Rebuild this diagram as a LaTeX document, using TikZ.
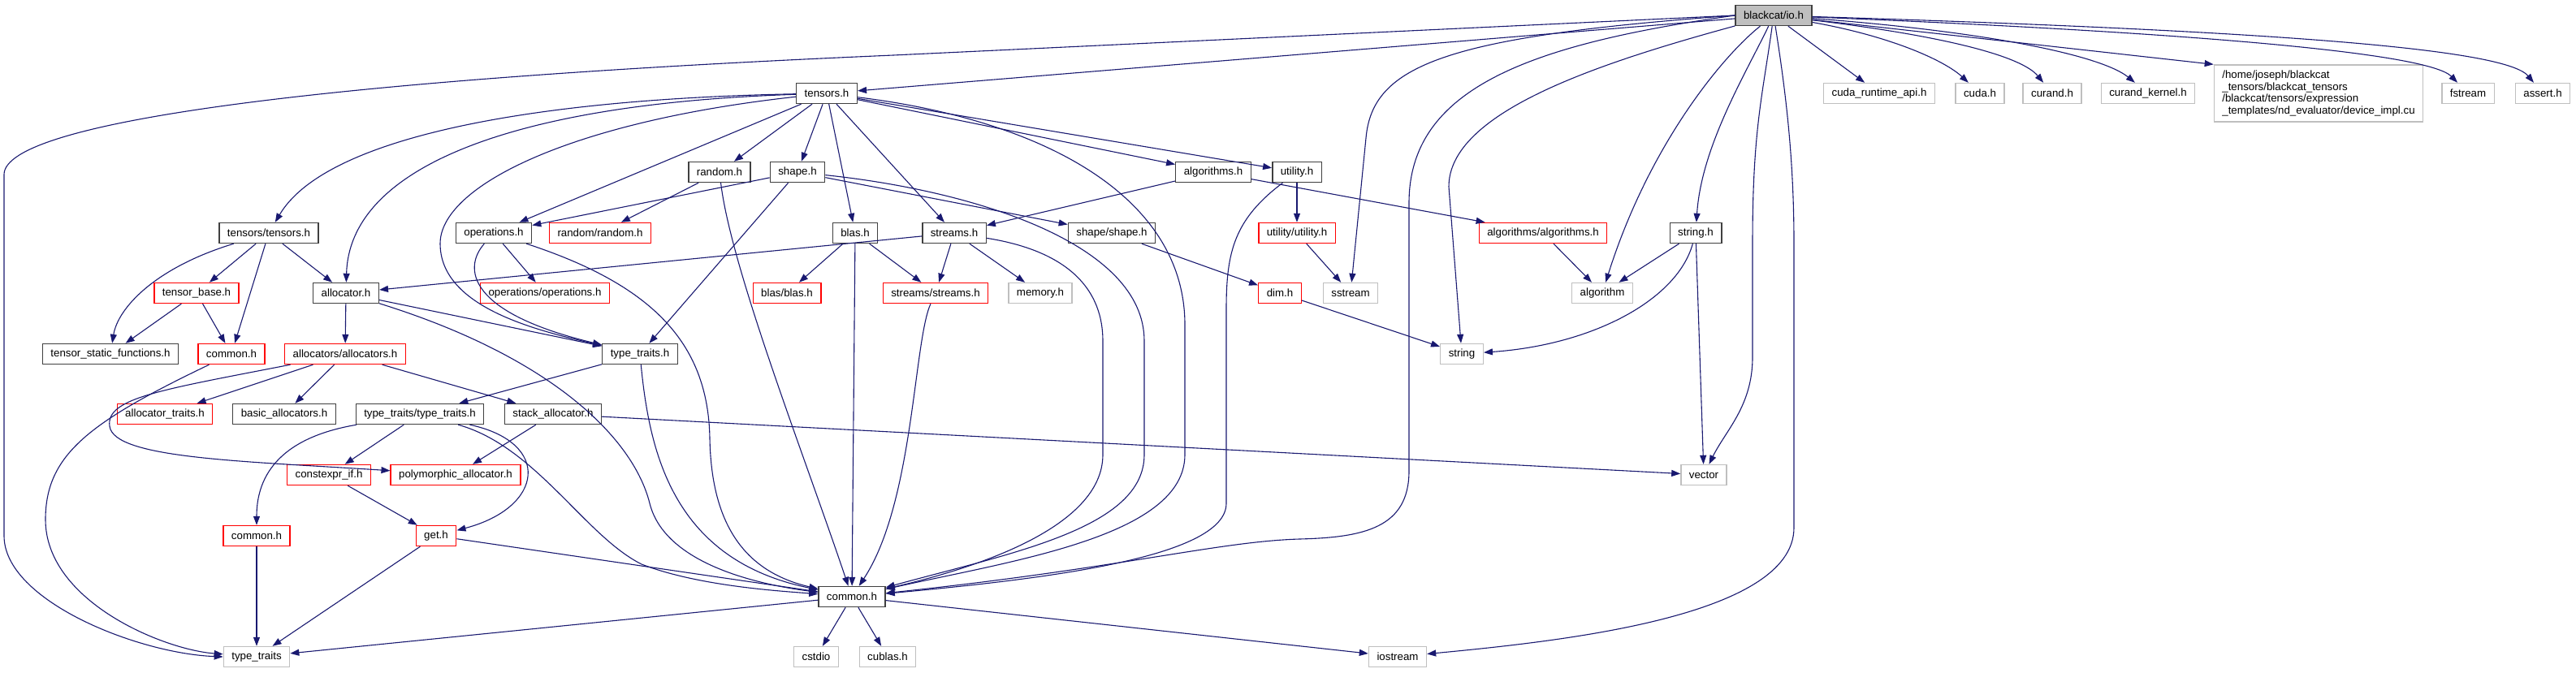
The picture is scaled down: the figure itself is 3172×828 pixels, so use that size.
\documentclass[tikz,border=0pt]{standalone}
\usepackage{fontspec}
\setmainfont{Liberation Sans}
\usepackage{xcolor}
\usetikzlibrary{arrows.meta}

\definecolor{edgeblue}{RGB}{25,25,112}
\definecolor{boxgray}{RGB}{191,191,191}
\definecolor{boxdark}{RGB}{64,64,64}

\tikzset{
  hdr/.style={draw=boxdark, line width=1.4pt, fill=white, inner xsep=10pt, inner ysep=0pt,
    minimum height=25pt, font=\fontsize{13.3}{14.8}\selectfont},
  redhdr/.style={hdr, draw=red},
  syshdr/.style={hdr, draw=boxgray},
  mainhdr/.style={hdr, fill=boxgray},
  dep/.style={draw=edgeblue, line width=1.1pt, -{Triangle[length=11pt,width=8pt]}}
}

\begin{document}
\begin{tikzpicture}[x=1pt, y=-1pt]
  \useasboundingbox (0,0) rectangle (3172,828);
  % root
  \node[mainhdr] (io) at (2184,19) {blackcat/io.h};
  % first row
  \node[hdr] (tensors) at (1018,115) {tensors.h};
  \node[syshdr] (cudart) at (2314,115) {cuda\_runtime\_api.h};
  \node[syshdr] (cuda) at (2438,115) {cuda.h};
  \node[syshdr] (curand) at (2527,115) {curand.h};
  \node[syshdr] (curandk) at (2645,115) {curand\_kernel.h};
  \node[syshdr, align=left, minimum height=70pt] (devimpl) at (2855,115)
    {/home/joseph/blackcat\\\_tensors/blackcat\_tensors\\/blackcat/tensors/expression\\\_templates/nd\_evaluator/device\_impl.cu};
  \node[syshdr] (fstream) at (3039,115) {fstream};
  \node[syshdr] (assert) at (3131,115) {assert.h};
  % second row
  \node[hdr] (random) at (886,212) {random.h};
  \node[hdr] (shape) at (982,212) {shape.h};
  \node[hdr] (algorithms) at (1494,212) {algorithms.h};
  \node[hdr] (utility) at (1597,212) {utility.h};
  % third row
  \node[hdr] (ttensors) at (331,287) {tensors/tensors.h};
  \node[hdr] (operations) at (608,287) {operations.h};
  \node[redhdr] (rrandom) at (739,287) {random/random.h};
  \node[hdr] (blas) at (1053,287) {blas.h};
  \node[hdr] (streams) at (1175,287) {streams.h};
  \node[hdr] (sshape) at (1369,287) {shape/shape.h};
  \node[redhdr] (uutility) at (1597,287) {utility/utility.h};
  \node[redhdr] (aalgorithms) at (1900,287) {algorithms/algorithms.h};
  \node[hdr] (stringh) at (2088,287) {string.h};
  % fourth row
  \node[redhdr] (tensorbase) at (242,361) {tensor\_base.h};
  \node[hdr] (allocator) at (426,361) {allocator.h};
  \node[redhdr] (ooperations) at (671,361) {operations/operations.h};
  \node[redhdr] (bblas) at (969,361) {blas/blas.h};
  \node[redhdr] (sstreams) at (1152,361) {streams/streams.h};
  \node[syshdr] (memory) at (1281,361) {memory.h};
  \node[redhdr] (dim) at (1576,361) {dim.h};
  \node[syshdr] (sstream) at (1663,361) {sstream};
  \node[syshdr] (algorithm) at (1973,361) {algorithm};
  % fifth row
  \node[hdr] (tsf) at (136,436) {tensor\_static\_functions.h};
  \node[redhdr] (commontens) at (285,436) {common.h};
  \node[redhdr] (allocators) at (425,436) {allocators/allocators.h};
  \node[hdr] (typetraitsh) at (788,436) {type\_traits.h};
  \node[syshdr] (string) at (1800,436) {string};
  % sixth row
  \node[redhdr] (allocatortraits) at (203,510) {allocator\_traits.h};
  \node[hdr] (basicalloc) at (350,510) {basic\_allocators.h};
  \node[hdr] (ttypetraits) at (517,510) {type\_traits/type\_traits.h};
  \node[hdr] (stackalloc) at (681,510) {stack\_allocator.h};
  % seventh row
  \node[redhdr] (constexprif) at (405,585) {constexpr\_if.h};
  \node[redhdr] (polyalloc) at (561,585) {polymorphic\_allocator.h};
  \node[syshdr] (vector) at (2098,585) {vector};
  % eighth row
  \node[redhdr] (commontt) at (316,660) {common.h};
  \node[redhdr] (get) at (537,660) {get.h};
  % ninth row
  \node[hdr] (common) at (1049,735) {common.h};
  % last row
  \node[syshdr] (typetraits) at (316,809) {type\_traits};
  \node[syshdr] (cstdio) at (1005,809) {cstdio};
  \node[syshdr] (cublas) at (1093,809) {cublas.h};
  \node[syshdr] (iostream) at (1721,809) {iostream};

  % edges from blackcat/io.h
  \draw[dep] (io) -- (tensors);
  \draw[dep] (io.west) -- (1100,68) .. controls (400,98) and (5,150) .. (5,215) -- (5,660)
    .. controls (5,740) and (170,805) .. (typetraits.west);
  \draw[dep] (io.west) .. controls (1780,45) and (1690,80) .. (1682,170) -- (sstream);
  \draw[dep] (io.west) .. controls (1880,55) and (1735,110) .. (1735,250) -- (1735,580)
    .. controls (1735,650) and (1680,662) .. (1600,664) .. controls (1500,667) and (1380,700) .. (common);
  \draw[dep] (io) .. controls (1960,80) and (1784,140) .. (1784,230) -- (string);
  \draw[dep] (io) .. controls (2120,70) and (2030,180) .. (algorithm);
  \draw[dep] (io) .. controls (2150,90) and (2095,180) .. (stringh);
  \draw[dep] (io) .. controls (2170,120) and (2158,160) .. (2158,300) -- (2158,440)
    .. controls (2158,500) and (2125,530) .. (vector);
  \draw[dep] (io) .. controls (2200,120) and (2209,200) .. (2209,300) -- (2209,650)
    .. controls (2209,760) and (1920,790) .. (iostream);
  \draw[dep] (io) -- (cudart);
  \draw[dep] (io) .. controls (2330,45) and (2395,75) .. (cuda);
  \draw[dep] (io) .. controls (2400,45) and (2490,70) .. (curand);
  \draw[dep] (io) .. controls (2460,40) and (2590,70) .. (curandk);
  \draw[dep] (io) -- (devimpl.north west);
  \draw[dep] (io) .. controls (2700,40) and (2990,65) .. (fstream);
  \draw[dep] (io) .. controls (2800,38) and (3085,60) .. (assert);

  % edges from tensors.h
  \draw[dep] (tensors) .. controls (650,122) and (400,170) .. (ttensors);
  \draw[dep] (tensors) .. controls (620,128) and (430,210) .. (allocator);
  \draw[dep] (tensors) .. controls (700,150) and (542,230) .. (542,300)
    .. controls (542,375) and (650,405) .. (typetraitsh);
  \draw[dep] (tensors) -- (operations);
  \draw[dep] (tensors) -- (random);
  \draw[dep] (tensors) -- (shape);
  \draw[dep] (tensors) -- (blas);
  \draw[dep] (tensors) -- (streams);
  \draw[dep] (tensors) -- (algorithms);
  \draw[dep] (tensors) -- (utility);
  \draw[dep] (tensors) .. controls (1300,150) and (1459,250) .. (1459,400) -- (1459,560)
    .. controls (1459,660) and (1250,690) .. (common);

  \draw[dep] (random) -- (rrandom);
  \draw[dep] (random) .. controls (900,330) and (990,560) .. (common);
  \draw[dep] (shape) -- (operations);
  \draw[dep] (shape) -- (typetraitsh);
  \draw[dep] (shape) -- (sshape);
  \draw[dep] (shape) .. controls (1200,235) and (1409,300) .. (1409,420) -- (1409,560)
    .. controls (1409,650) and (1250,680) .. (common);
  \draw[dep] (algorithms) -- (streams);
  \draw[dep] (algorithms) -- (aalgorithms);
  \draw[dep] (utility) -- (uutility);
  \draw[dep] (utility) .. controls (1520,270) and (1510,310) .. (1510,380) -- (1510,620)
    .. controls (1510,685) and (1300,712) .. (common);

  \draw[dep] (ttensors) .. controls (190,330) and (145,380) .. (tsf);
  \draw[dep] (ttensors) -- (tensorbase);
  \draw[dep] (ttensors) -- (commontens);
  \draw[dep] (ttensors) -- (allocator);
  \draw[dep] (operations) -- (ooperations);
  \draw[dep] (operations) .. controls (570,330) and (575,385) .. (typetraitsh);
  \draw[dep] (operations) .. controls (800,350) and (872,420) .. (874,540)
    .. controls (876,650) and (920,705) .. (common);
  \draw[dep] (blas) -- (bblas);
  \draw[dep] (blas) -- (sstreams);
  \draw[dep] (blas) -- (common);
  \draw[dep] (streams) -- (allocator);
  \draw[dep] (streams) -- (sstreams);
  \draw[dep] (streams) -- (memory);
  \draw[dep] (streams) .. controls (1320,310) and (1358,360) .. (1358,420) -- (1358,560)
    .. controls (1358,650) and (1200,700) .. (common);
  \draw[dep] (sshape) -- (dim);
  \draw[dep] (uutility) -- (sstream);
  \draw[dep] (aalgorithms) -- (algorithm);
  \draw[dep] (stringh) -- (algorithm);
  \draw[dep] (stringh) .. controls (2065,370) and (1960,425) .. (string);
  \draw[dep] (stringh) -- (vector);

  \draw[dep] (tensorbase) -- (tsf);
  \draw[dep] (tensorbase) -- (commontens);
  \draw[dep] (allocator) -- (allocators);
  \draw[dep] (allocator) -- (typetraitsh);
  \draw[dep] (allocator) .. controls (680,440) and (780,540) .. (800,620)
    .. controls (820,700) and (950,722) .. (common);
  \draw[dep] (sstreams) .. controls (1125,420) and (1125,620) .. (common);
  \draw[dep] (dim) -- (string);

  \draw[dep] (commontens) .. controls (110,520) and (56,560) .. (56,640)
    .. controls (56,740) and (200,800) .. (typetraits);
  \draw[dep] (allocators) -- (allocatortraits);
  \draw[dep] (allocators) -- (basicalloc);
  \draw[dep] (allocators) -- (stackalloc);
  \draw[dep] (allocators) .. controls (200,480) and (130,490) .. (135,525)
    .. controls (140,565) and (300,568) .. (polyalloc);
  \draw[dep] (typetraitsh) -- (ttypetraits);
  \draw[dep] (typetraitsh) .. controls (800,560) and (830,690) .. (common);

  \draw[dep] (ttypetraits) -- (constexprif);
  \draw[dep] (ttypetraits) .. controls (340,540) and (316,590) .. (commontt);
  \draw[dep] (ttypetraits) .. controls (680,545) and (670,625) .. (get);
  \draw[dep] (ttypetraits) .. controls (660,550) and (720,660) .. (790,695)
    .. controls (860,722) and (960,728) .. (common);
  \draw[dep] (stackalloc) -- (polyalloc);
  \draw[dep] (stackalloc) -- (vector);

  \draw[dep] (constexprif) -- (get);
  \draw[dep] (commontt) -- (typetraits);
  \draw[dep] (get) -- (typetraits);
  \draw[dep] (get) -- (common);

  \draw[dep] (common) -- (typetraits);
  \draw[dep] (common) -- (cstdio);
  \draw[dep] (common) -- (cublas);
  \draw[dep] (common) -- (iostream);
\end{tikzpicture}
\end{document}
